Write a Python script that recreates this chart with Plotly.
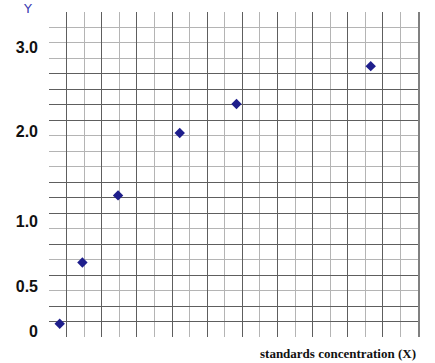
import plotly.graph_objects as go

# Data in grid-cell units (chart drawn on graph paper, 21 x 21 cells)
x_vals = [0.61, 1.90, 3.93, 7.44, 10.67, 18.31]
y_vals = [0.86, 4.81, 9.15, 13.18, 15.06, 17.50]

# Y tick labels and their positions (grid-cell units)
y_tick_pos = [0.34, 3.30, 7.46, 13.29, 18.69]
y_tick_text = ["0", "0.5", "1.0", "2.0", "3.0"]

# Darker horizontal rules on the graph paper
y_dark_rules = [1, 2, 4, 6, 8, 9, 10, 14, 15, 16, 17, 21]

DARK = "#5e5e5e"
LIGHT = "#b4b4b4"

fig = go.Figure()
fig.add_trace(go.Scatter(
    x=x_vals, y=y_vals, mode="markers",
    marker=dict(symbol="diamond", size=8, color="#1e1e8c",
                line=dict(width=0)),
    showlegend=False, cliponaxis=False,
))

fig.update_layout(
    width=435, height=363,
    margin=dict(l=49, r=17, t=12, b=26),
    paper_bgcolor="white", plot_bgcolor="white",
    xaxis=dict(
        range=[0, 21], showticklabels=False, ticks="",
        tick0=1, dtick=2, showgrid=True, gridcolor=DARK, gridwidth=1,
        zeroline=False, showline=False,
        minor=dict(tick0=0, dtick=1, showgrid=True, gridcolor=LIGHT, gridwidth=1),
    ),
    yaxis=dict(
        range=[0, 21], tickmode="array", tickvals=y_tick_pos, ticktext=y_tick_text,
        showgrid=False, zeroline=False, showline=False, ticks="",
        ticklabelstandoff=10,
        tickfont=dict(family="Liberation Sans, Arial, sans-serif", size=16,
                      color="#111111", weight="bold"),
    ),
    yaxis2=dict(
        range=[0, 21], overlaying="y", side="right",
        tickmode="array", tickvals=y_dark_rules, showticklabels=False, ticks="",
        showgrid=True, gridcolor=DARK, gridwidth=1, zeroline=False,
        showline=True, linecolor="#808080", linewidth=2,
        minor=dict(tickmode="linear", tick0=0, dtick=1, showgrid=True,
                   gridcolor=LIGHT, gridwidth=1),
    ),
    annotations=[
        dict(text="Y", xref="paper", yref="paper", x=-0.058, y=1.0,
             xanchor="center", yanchor="bottom", yshift=-6, showarrow=False,
             font=dict(family="DejaVu Sans, sans-serif", size=13, color="#3a3ab0")),
        dict(text="standards concentration (X)", xref="paper", yref="paper",
             x=1.0, y=0, xanchor="right", yanchor="top", yshift=-7,
             showarrow=False,
             font=dict(family="Liberation Serif, Times New Roman, serif", size=13,
                       color="#111111", weight="bold")),
    ],
)

# dummy trace on yaxis2 so the overlay axis is rendered
fig.add_trace(go.Scatter(x=[None], y=[None], yaxis="y2", showlegend=False,
                         hoverinfo="skip"))

fig.write_html("out.html")
